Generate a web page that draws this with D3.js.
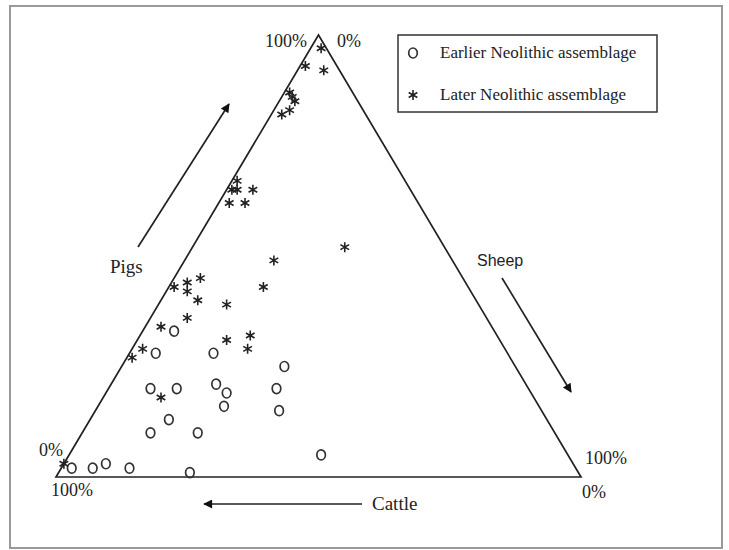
<!DOCTYPE html>
<html>
<head>
<meta charset="utf-8">
<script src="https://cdnjs.cloudflare.com/ajax/libs/d3/7.8.5/d3.min.js"></script>
<style>
  body { margin: 0; background: #fff; }
  text { font-family: "Liberation Serif", "Times New Roman", serif; fill: #222; }
</style>
</head>
<body>
<script>
//////////////////////////////////////////////
// Data //////////////////////////////////////
//////////////////////////////////////////////
// percentages: pigs / sheep / cattle
var earlierPigs   = [2, 2, 3, 2, 1, 5, 10, 10, 13, 20, 20, 21, 19, 16, 20, 15, 25, 28, 28, 33];
var earlierSheep  = [2, 6, 8, 13, 25, 48, 13, 22, 15, 8, 13, 20, 23, 24, 32, 35, 31, 5, 16, 6];
var earlierCattle = [96, 92, 89, 85, 74, 47, 77, 68, 72, 72, 67, 59, 58, 60, 48, 50, 44, 67, 56, 61];

var laterPigs   = [3, 18, 27, 29, 31, 32, 29, 34, 36, 39, 42, 40, 43, 44, 45, 43, 49, 52,
                   62, 62, 65, 65, 65, 67, 82, 83, 87, 86, 85, 93, 92, 97];
var laterSheep  = [0, 11, 1, 2, 17, 21, 22, 3, 7, 13, 4, 7, 1, 3, 5, 18, 17, 29,
                   2, 5, 1, 2, 5, 1, 2, 3, 1, 2, 3, 1, 5, 2];
var laterCattle = [97, 71, 72, 69, 52, 47, 49, 63, 57, 48, 54, 53, 56, 53, 50, 39, 34, 19,
                   36, 33, 34, 33, 30, 32, 16, 14, 12, 12, 12, 6, 3, 1];

var seriesNames = ["Earlier Neolithic assemblage", "Later Neolithic assemblage"];
var axisNames = ["Pigs", "Sheep", "Cattle"];
var cornerLabels = ["100%", "0%"];

//////////////////////////////////////////////
// Chart Config /////////////////////////////
//////////////////////////////////////////////
var width = 729, height = 550;
var leftX = 56, rightX = 581, baseY = 477, topY = 35;

// sheep (+ half of pigs) runs along the base, pigs runs up
var xScale = d3.scaleLinear().domain([0, 100]).range([leftX, rightX]);
var yScale = d3.scaleLinear().domain([0, 100]).range([baseY, topY]);

function pos(p, s) {
	return [xScale(s + p / 2), yScale(p)];
}

function toPoints(pigs, sheep, cattle) {
	return pigs.map(function(p, i) { return {p: p, s: sheep[i], c: cattle[i]}; });
}
var earlier = toPoints(earlierPigs, earlierSheep, earlierCattle);
var later = toPoints(laterPigs, laterSheep, laterCattle);

var svg = d3.select("body").append("svg")
	.attr("width", width)
	.attr("height", height);

svg.append("defs").append("marker")
	.attr("id", "head")
	.attr("viewBox", "0 0 10 10")
	.attr("refX", 9).attr("refY", 5)
	.attr("markerWidth", 12).attr("markerHeight", 9)
	.attr("markerUnits", "userSpaceOnUse")
	.attr("orient", "auto")
	.append("path")
	.attr("d", "M0,0L10,5L0,10Z")
	.style("fill", "#111");

// outer frame
svg.append("rect")
	.attr("x", 10).attr("y", 6)
	.attr("width", 712).attr("height", 542)
	.style("fill", "none")
	.style("stroke", "#999")
	.style("stroke-width", 2);

// triangle
var corners = [pos(100, 0), pos(0, 100), pos(0, 0)];
svg.append("path")
	.attr("d", d3.line()(corners) + "Z")
	.style("fill", "none")
	.style("stroke", "#222")
	.style("stroke-width", 1.7);

// corner labels
var labels = [
	{t: cornerLabels[0], x: 307, y: 47, a: "end"},
	{t: cornerLabels[1], x: 337, y: 47, a: "start"},
	{t: cornerLabels[1], x: 63, y: 456, a: "end"},
	{t: cornerLabels[0], x: 51, y: 496, a: "start"},
	{t: cornerLabels[0], x: 585, y: 464, a: "start"},
	{t: cornerLabels[1], x: 582, y: 498, a: "start"}
];
svg.selectAll(".corner").data(labels).enter().append("text")
	.attr("class", "corner")
	.attr("x", function(d) { return d.x; })
	.attr("y", function(d) { return d.y; })
	.attr("text-anchor", function(d) { return d.a; })
	.style("font-size", "18px")
	.text(function(d) { return d.t; });

// direction arrows
var arrows = [
	[[138, 247], [229, 104]],
	[[502, 278], [571, 392]],
	[[362, 504], [204, 504]]
];
svg.selectAll(".arrow").data(arrows).enter().append("line")
	.attr("class", "arrow")
	.attr("x1", function(d) { return d[0][0]; })
	.attr("y1", function(d) { return d[0][1]; })
	.attr("x2", function(d) { return d[1][0]; })
	.attr("y2", function(d) { return d[1][1]; })
	.style("stroke", "#222")
	.style("stroke-width", 1.7)
	.attr("marker-end", "url(#head)");

svg.append("text").attr("x", 110).attr("y", 273)
	.style("font-size", "19px").text(axisNames[0]);
svg.append("text").attr("x", 477).attr("y", 266)
	.style("font-family", "'Liberation Sans', Arial, sans-serif")
	.style("font-size", "16px").text(axisNames[1]);
svg.append("text").attr("x", 372).attr("y", 510)
	.style("font-size", "19px").text(axisNames[2]);

// markers
var star = d3.symbol().type(d3.symbolAsterisk).size(70);

function drawCircle(sel) {
	sel.append("ellipse")
		.attr("rx", 4.3).attr("ry", 5)
		.style("fill", "none")
		.style("stroke", "#333")
		.style("stroke-width", 1.7);
}
function drawStar(sel) {
	sel.append("path")
		.attr("d", star)
		.style("fill", "none")
		.style("stroke", "#222")
		.style("stroke-width", 1.6);
}

svg.selectAll(".earlier").data(earlier).enter().append("g")
	.attr("class", "earlier")
	.attr("transform", function(d) { return "translate(" + pos(d.p, d.s) + ")"; })
	.call(drawCircle);

svg.selectAll(".later").data(later).enter().append("g")
	.attr("class", "later")
	.attr("transform", function(d) { return "translate(" + pos(d.p, d.s) + ")"; })
	.call(drawStar);

// legend
var legend = svg.append("g");
legend.append("rect")
	.attr("x", 398).attr("y", 35)
	.attr("width", 259).attr("height", 77)
	.style("fill", "#fff")
	.style("stroke", "#333")
	.style("stroke-width", 1.5);
legend.append("g").attr("transform", "translate(413,53)").call(drawCircle);
legend.append("g").attr("transform", "translate(413,95)").call(drawStar);
legend.selectAll(".ltext").data(seriesNames).enter().append("text")
	.attr("class", "ltext")
	.attr("x", 440)
	.attr("y", function(d, i) { return 58 + i * 42; })
	.style("font-size", "17px")
	.text(function(d) { return d; });
</script>
</body>
</html>
